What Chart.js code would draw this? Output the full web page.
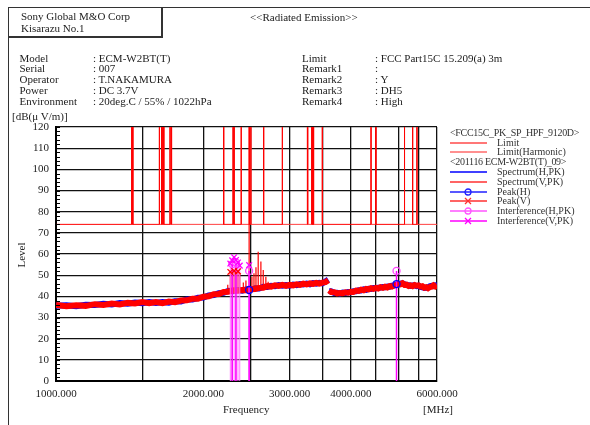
<!DOCTYPE html>
<html lang="en">
<head>
  <meta charset="UTF-8">
  <title>Radiated Emission</title>
  <script src="https://cdn.jsdelivr.net/npm/chart.js"></script>
  <style>
    html, body { margin: 0; padding: 0; background: #fff; }
    #wrap {
      position: relative; width: 590px; height: 425px; overflow: hidden;
      font-family: "Liberation Serif", "DejaVu Serif", serif; font-size: 11px; color: #222;
    }
    #chart { position: absolute; left: 0; top: 0; }
    .t { position: absolute; white-space: nowrap; line-height: 12px; }
    #frame {
      position: absolute; left: 8px; top: 7px; width: 640px; height: 480px;
      border-left: 1.5px solid #333; border-top: 1.5px solid #333;
    }
    #company {
      position: absolute; left: 8px; top: 7px; width: 152px; height: 28px;
      border: 1px solid #333; border-right-width: 2px; border-bottom-width: 2px;
    }
    .lgrow { position: absolute; left: 450px; height: 10px; font-size: 10px; color: #333; }
    .lgrow svg { position: absolute; left: 0; top: 0; }
    .lgrow span { position: absolute; top: -1px; white-space: nowrap; line-height: 12px; }
    .lgrow span.hd { letter-spacing: -0.3px; }
  </style>
</head>
<body>
<div id="wrap">
  <canvas id="chart" width="590" height="425"></canvas>
  <div id="frame"></div>
  <div id="company"></div>

  <div class="t" style="left:21px; top:10px">Sony Global M&amp;O Corp</div>
  <div class="t" style="left:21px; top:22px">Kisarazu No.1</div>
  <div class="t" style="left:250px; top:10.5px">&lt;&lt;Radiated Emission&gt;&gt;</div>

  <div class="t" style="left:19.5px; top:51.5px">Model</div>
  <div class="t" style="left:19.5px; top:62.3px">Serial</div>
  <div class="t" style="left:19.5px; top:73px">Operator</div>
  <div class="t" style="left:19.5px; top:83.7px">Power</div>
  <div class="t" style="left:19.5px; top:94.5px">Environment</div>
  <div class="t" style="left:93px; top:51.5px">: ECM-W2BT(T)</div>
  <div class="t" style="left:93px; top:62.3px">: 007</div>
  <div class="t" style="left:93px; top:73px">: T.NAKAMURA</div>
  <div class="t" style="left:93px; top:83.7px">: DC 3.7V</div>
  <div class="t" style="left:93px; top:94.5px">: 20deg.C / 55% / 1022hPa</div>

  <div class="t" style="left:302px; top:51.5px">Limit</div>
  <div class="t" style="left:302px; top:62.3px">Remark1</div>
  <div class="t" style="left:302px; top:73px">Remark2</div>
  <div class="t" style="left:302px; top:83.7px">Remark3</div>
  <div class="t" style="left:302px; top:94.5px">Remark4</div>
  <div class="t" style="left:375px; top:51.5px">: FCC Part15C 15.209(a) 3m</div>
  <div class="t" style="left:375px; top:62.3px">:</div>
  <div class="t" style="left:375px; top:73px">: Y</div>
  <div class="t" style="left:375px; top:83.7px">: DH5</div>
  <div class="t" style="left:375px; top:94.5px">: High</div>

  <div class="t" style="left:12px; top:110px">[dB(&mu; V/m)]</div>
  <div class="t" style="left:1px; top:249px; width:40px; text-align:center; transform:rotate(-90deg)">Level</div>
  <div class="t" style="left:223px; top:403px">Frequency</div>
  <div class="t" style="left:423px; top:403px">[MHz]</div>

  <div id="legend"></div>
</div>

<script>
  // frequency axis (MHz): grid every 500, labels only on some
  var gridFreq = [1000, 1500, 2000, 2500, 3000, 3500, 4000, 4500, 5000, 5500, 6000];
  var labelFreq = [1000, 2000, 3000, 4000, 6000];

  // limit: 74 dB inside restricted bands, off-scale outside (and the reverse for harmonic)
  var limitLevel = 74;
  var limitOff = 200;
  var restrictLo = [960, 1435, 1645.5, 1660, 1718.8, 2200, 2310, 2483.5, 2655, 3260, 3332, 3345.8, 3500, 4500, 5350];
  var restrictHi = [1427, 1626.5, 1646.5, 1710, 1722.2, 2300, 2390, 2500, 2900, 3267, 3339, 3358, 4400, 5150, 5460];
  var harmLo = [1427, 1626.5, 1646.5, 1710, 1722.2, 2300, 2390, 2500, 2900, 3267, 3339, 3358, 4400, 5150, 5460];
  var harmHi = [1435, 1645.5, 1660, 1718.8, 2200, 2310, 2483.5, 2655, 3260, 3332, 3345.8, 3500, 4500, 5350, 7000];

  // spectrum traces (null = antenna/range break at ~3.6 GHz)
  var specFreq = [
    1000, 1050, 1100, 1150, 1200, 1250, 1300, 1350, 1400, 1450,
    1500, 1550, 1600, 1650, 1700, 1750, 1800, 1850, 1900, 1950,
    2000, 2050, 2100, 2150, 2200, 2250, 2300, 2350, 2400, 2450,
    2500, 2550, 2600, 2650, 2700, 2750, 2800, 2850, 2900, 2950,
    3000, 3050, 3100, 3150, 3200, 3250, 3300, 3350, 3400, 3450,
    3500, 3550, 3600, 3605, 3610, 3650, 3700, 3750, 3800, 3850,
    3900, 3950, 4000, 4050, 4100, 4150, 4200, 4250, 4300, 4350,
    4400, 4450, 4500, 4550, 4600, 4650, 4700, 4750, 4800, 4850,
    4900, 4950, 5000, 5050, 5100, 5150, 5200, 5250, 5300, 5350,
    5400, 5450, 5500, 5550, 5600, 5650, 5700, 5750, 5800, 5850,
    5900, 5950, 6000
  ];
  var specH = [
    35.5, 35.8, 35.3, 36.0, 35.9, 36.5, 36.2, 36.8, 36.5, 37.1,
    36.8, 37.3, 36.9, 37.3, 37.0, 37.7, 37.6, 38.5, 38.5, 39.3,
    39.4, 40.4, 40.6, 41.5, 41.7, 42.6, 42.4, 43.0, 42.7, 43.3,
    43.1, 43.8, 43.7, 44.5, 44.4, 45.0, 44.8, 45.3, 45.0, 45.3,
    45.0, 45.6, 45.3, 45.8, 45.6, 46.0, 45.7, 46.3, 46.0, 46.4,
    46.1, 47.0, 47.9, null, 42.5, 42.3, 41.6, 41.7, 41.3, 41.8,
    41.6, 42.0, 41.9, 42.4, 42.4, 42.9, 42.8, 43.3, 43.1, 43.6,
    43.5, 43.9, 43.8, 44.1, 44.2, 44.4, 44.3, 44.6, 44.5, 45.0,
    45.1, 45.5, 45.6, 46.0, 46.1, 45.7, 45.3, 45.2, 44.9, 45.1,
    45.2, 44.8, 45.0, 44.5, 44.3, 44.0, 44.1, 44.2, 44.8, 45.0,
    44.8, 45.2, 45.1
  ];
  var specV = [
    35.9, 35.3, 35.8, 35.5, 36.3, 35.9, 36.6, 36.2, 36.9, 36.6,
    37.3, 36.8, 37.3, 36.8, 37.5, 37.2, 38.0, 38.1, 38.9, 38.9,
    39.8, 40.0, 41.0, 41.1, 42.1, 42.2, 42.8, 42.6, 43.0, 42.9,
    43.4, 43.5, 44.0, 44.1, 44.8, 44.6, 45.2, 44.9, 45.4, 44.9,
    45.4, 45.2, 45.7, 45.4, 46.0, 45.6, 46.1, 45.9, 46.4, 46.0,
    46.5, 46.7, 47.6, null, 42.8, 42.0, 41.9, 41.4, 41.6, 41.5,
    41.9, 41.7, 42.2, 42.1, 42.7, 42.6, 43.2, 42.9, 43.5, 43.3,
    43.8, 43.5, 44.0, 43.7, 44.3, 44.0, 44.5, 44.2, 44.8, 44.6,
    45.2, 45.3, 45.9, 45.7, 46.2, 45.4, 45.5, 44.9, 45.2, 44.8,
    45.3, 45.0, 45.2, 44.6, 44.8, 44.1, 44.3, 43.8, 44.4, 44.6,
    45.2, 44.7, 45.3
  ];

  // narrow spurs on the V trace around the 2.4 GHz band
  var spurFreq = [2243, 2270, 2290, 2311, 2331, 2353, 2373, 2413, 2443, 2480, 2513, 2537, 2561, 2588, 2621, 2650, 2683, 2712];
  var spurBase = [42.3, 42.5, 42.6, 42.6, 42.7, 42.8, 42.9, 43.0, 43.1, 43.2, 43.3, 43.5, 43.6, 43.7, 43.9, 44.2, 44.5, 44.6];
  var spurTop  = [45.5, 51.5, 50.8, 52.0, 51.2, 51.8, 50.5, 46.5, 47.5, 125, 49.3, 50.9, 53.7, 61.1, 56.4, 52.4, 49.3, 46.9];

  // markers
  var peakHFreq = [2480, 4960];
  var peakHLevel = [43.0, 45.8];
  var peakVFreq = [2270, 2311, 2353];
  var peakVLevel = [51.5, 52.0, 51.8];
  var interfHFreq = [2290, 2331, 2480, 4960];
  var interfHLevel = [55.2, 56.0, 52.0, 52.0];
  var interfVFreq = [2270, 2290, 2311, 2331, 2353, 2373, 2480];
  var interfVLevel = [55.5, 57.0, 58.5, 57.2, 56.0, 54.5, 54.8];

  function xy(fs, vs) {
    return fs.map(function(f, i) { return { x: f, y: vs[i] }; });
  }

  function stems(fs, tops, bases) {
    var pts = [];
    fs.forEach(function(f, i) {
      pts.push({ x: f, y: bases ? bases[i] : 0 }, { x: f, y: tops[i] }, { x: f, y: null });
    });
    return pts;
  }

  function steps(lo, hi) {
    var pts = [];
    lo.forEach(function(a, i) {
      pts.push({ x: a, y: limitOff }, { x: a, y: limitLevel }, { x: hi[i], y: limitLevel },
               { x: hi[i], y: limitOff }, { x: hi[i], y: null });
    });
    return pts;
  }

  var font = { family: '"Liberation Serif", "DejaVu Serif", serif', size: 11 };

  function lineSet(label, data, color, width) {
    return { label: label, data: data, borderColor: color, borderWidth: width, pointRadius: 0,
             tension: 0, spanGaps: false, clip: 0 };
  }
  function markSet(label, data, color, style, r) {
    return { label: label, data: data, showLine: false, pointStyle: style, pointRadius: r,
             pointBorderColor: color, pointBackgroundColor: 'rgba(0,0,0,0)', pointBorderWidth: 1.3, clip: 0 };
  }

  // first dataset is drawn on top
  var datasets = [
    markSet('Interference(V,PK)', xy(interfVFreq, interfVLevel), '#ff00ff', 'crossRot', 4),
    markSet('Interference(H,PK)', xy(interfHFreq, interfHLevel), '#ff44ff', 'circle', 3.5),
    markSet('Peak(V)', xy(peakVFreq, peakVLevel), '#ff0000', 'crossRot', 4),
    markSet('Peak(H)', xy(peakHFreq, peakHLevel), '#0000ff', 'circle', 3.5),
    lineSet('stemH', stems(interfHFreq, interfHLevel), '#ff00ff', 1.5),
    lineSet('stemV', stems(interfVFreq, interfVLevel), '#ff77ff', 1),
    lineSet('spurs', stems(spurFreq, spurTop, spurBase), '#ff0000', 1.2),
    lineSet('Spectrum(V,PK)', xy(specFreq, specV), '#ff0000', 6),
    lineSet('Spectrum(H,PK)', xy(specFreq, specH), '#0000ff', 6),
    lineSet('Limit', steps(restrictLo, restrictHi), '#ff0000', 1),
    lineSet('Limit(Harmonic)', steps(harmLo, harmHi), '#ff4040', 1)
  ];

  // small inward ticks every 2 dB along the left axis
  var minorTicks = {
    id: 'minorTicks',
    afterDatasetsDraw: function(chart) {
      var y = chart.scales.y, ctx = chart.ctx, left = chart.chartArea.left;
      ctx.save();
      ctx.strokeStyle = '#000';
      ctx.lineWidth = 1;
      ctx.beginPath();
      for (var v = y.min; v <= y.max; v += 2) {
        var py = Math.round(y.getPixelForValue(v)) + 0.5;
        ctx.moveTo(left, py);
        ctx.lineTo(left + 4, py);
      }
      ctx.stroke();
      ctx.restore();
    }
  };

  new Chart(document.getElementById('chart'), {
    type: 'line',
    data: { datasets: datasets },
    plugins: [minorTicks],
    options: {
      responsive: false,
      animation: false,
      events: [],
      layout: { padding: { left: 10, top: 127, right: 153, bottom: 0 } },
      plugins: { legend: { display: false }, tooltip: { enabled: false } },
      scales: {
        x: {
          type: 'logarithmic', min: 1000, max: 6000,
          afterBuildTicks: function(s) { s.ticks = gridFreq.map(function(v) { return { value: v }; }); },
          afterFit: function(s) { s.height = 44; },
          ticks: {
            autoSkip: false, maxRotation: 0, padding: 7, font: font, color: '#222',
            callback: function(v) { return labelFreq.indexOf(v) >= 0 ? v.toFixed(3) : ''; }
          },
          grid: { color: '#111', lineWidth: 1.3, drawTicks: false },
          border: { color: '#000', width: 2 }
        },
        y: {
          min: 0, max: 120,
          afterFit: function(s) { s.width = 46; },
          ticks: {
            stepSize: 10, autoSkip: false, padding: 7, font: font, color: '#222'
          },
          grid: { color: '#111', lineWidth: 1.3, drawTicks: false },
          border: { color: '#000', width: 2 }
        }
      }
    }
  });

  // legend on the right
  var legendRows = [
    { text: '<FCC15C_PK_SP_HPF_9120D>' },
    { text: 'Limit', color: '#ff4a4a' },
    { text: 'Limit(Harmonic)', color: '#ff6a6a' },
    { text: '<201116 ECM-W2BT(T)_09>' },
    { text: 'Spectrum(H,PK)', color: '#0000ff' },
    { text: 'Spectrum(V,PK)', color: '#ff3030' },
    { text: 'Peak(H)', color: '#2020ff', mark: 'o' },
    { text: 'Peak(V)', color: '#ff3030', mark: 'x' },
    { text: 'Interference(H,PK)', color: '#ff55ff', mark: 'o' },
    { text: 'Interference(V,PK)', color: '#ff00ff', mark: 'x' }
  ];
  var legend = document.getElementById('legend');
  legendRows.forEach(function(r, i) {
    var row = document.createElement('div');
    row.className = 'lgrow';
    row.style.top = (127.7 + i * 9.8) + 'px';
    var span = document.createElement('span');
    span.textContent = r.text;
    span.style.left = r.color ? '47px' : '0px';
    if (!r.color) span.className = 'hd';
    if (r.color) {
      var svg = '<svg width="40" height="10" xmlns="http://www.w3.org/2000/svg">' +
        '<line x1="0" y1="5" x2="37" y2="5" stroke="' + r.color + '" stroke-width="1.3"/>';
      if (r.mark === 'o') svg += '<circle cx="18" cy="5" r="3" fill="none" stroke="' + r.color + '" stroke-width="1.3"/>';
      if (r.mark === 'x') svg += '<path d="M15 2 L21 8 M21 2 L15 8" stroke="' + r.color + '" stroke-width="1.3"/>';
      svg += '</svg>';
      row.innerHTML = svg;
    }
    row.appendChild(span);
    legend.appendChild(row);
  });
</script>
</body>
</html>
